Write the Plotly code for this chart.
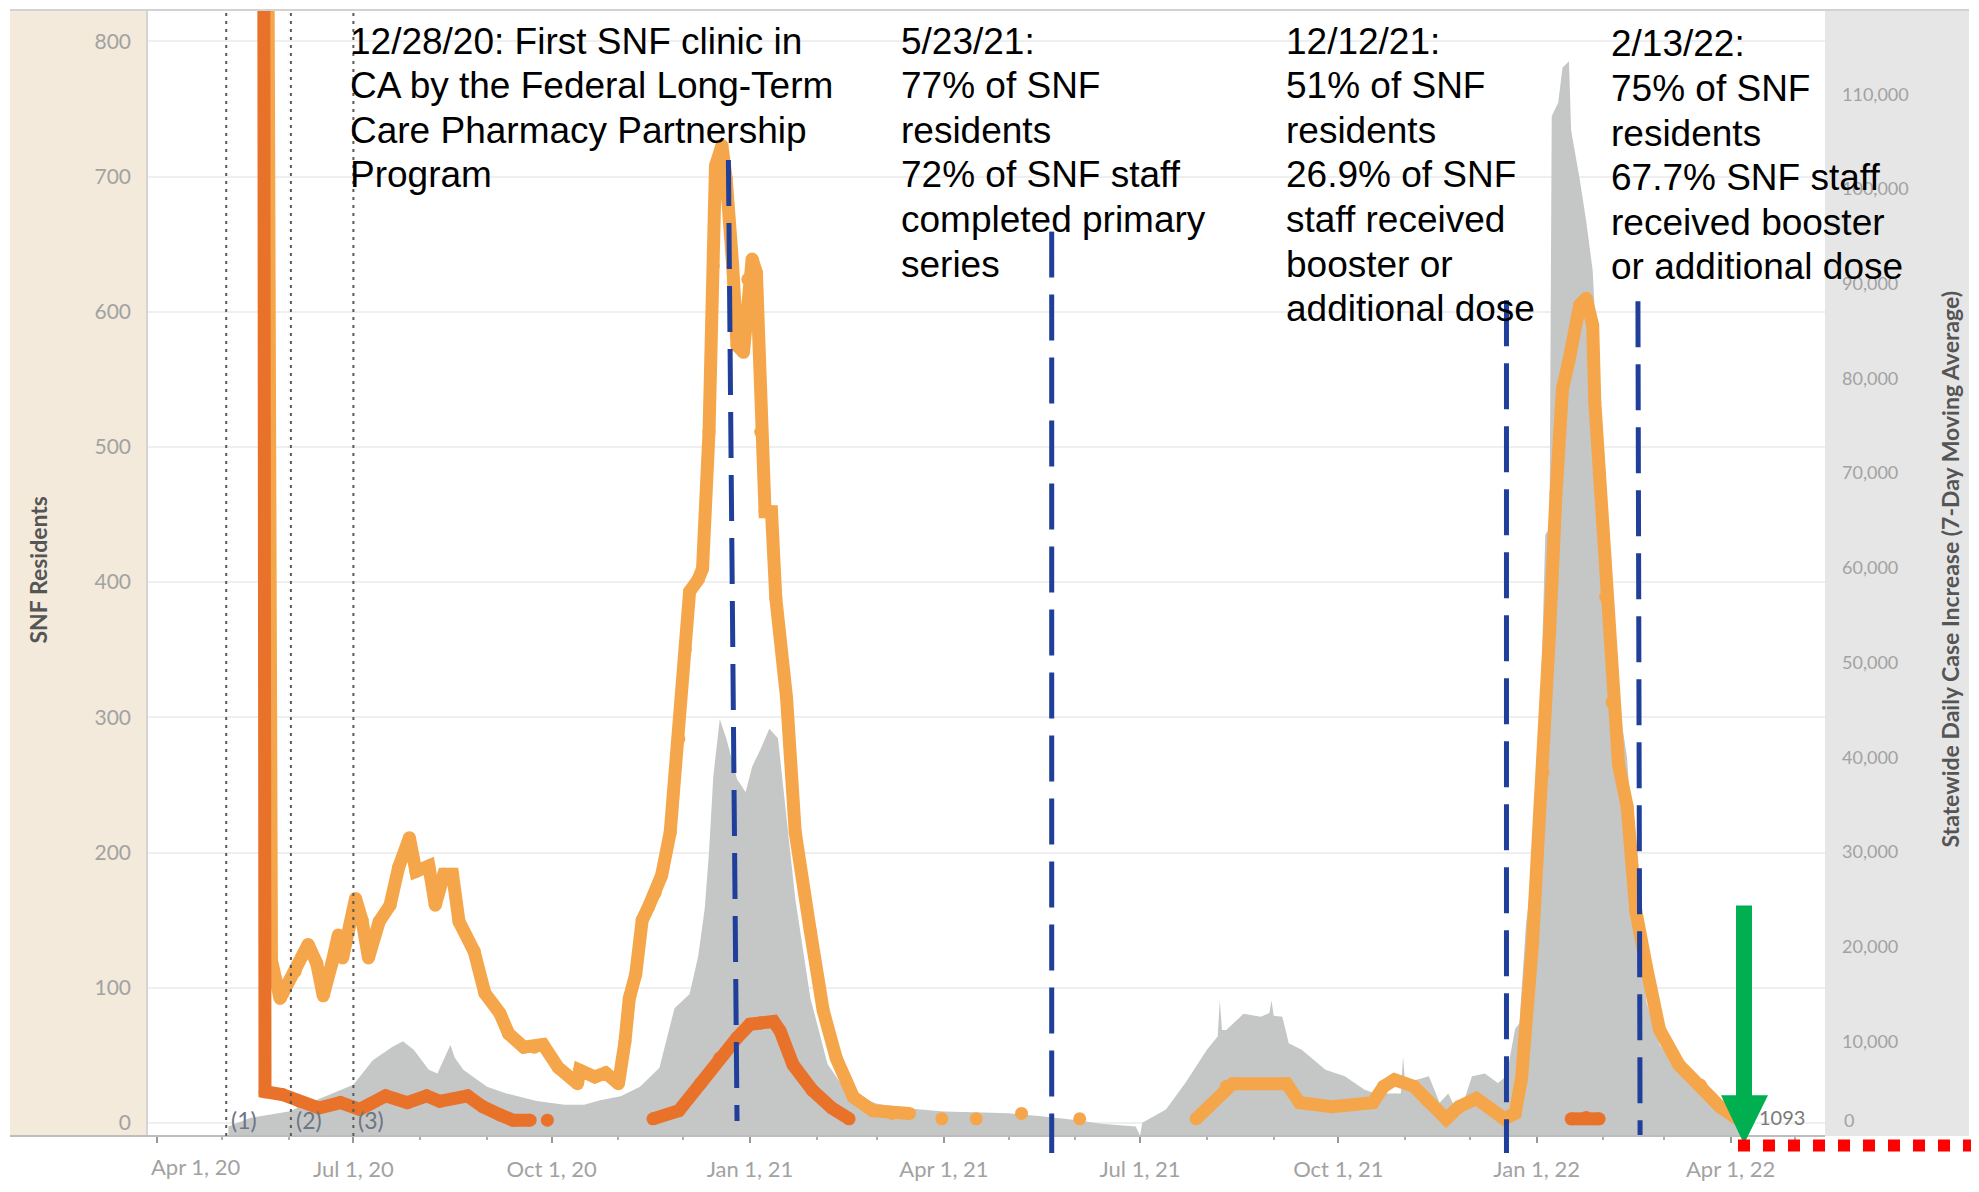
import plotly.graph_objects as go

# ---------------- data ----------------
grey_dates = ['2020-05-04', '2020-05-14', '2020-06-01', '2020-06-22', '2020-07-01', '2020-07-10', '2020-07-19',
              '2020-07-24', '2020-07-29', '2020-08-05', '2020-08-09', '2020-08-13', '2020-08-15', '2020-08-17',
              '2020-08-21', '2020-09-01', '2020-09-10', '2020-09-24', '2020-10-07', '2020-10-16', '2020-10-24',
              '2020-11-02', '2020-11-11', '2020-11-20', '2020-11-27', '2020-12-04', '2020-12-08', '2020-12-11',
              '2020-12-13', '2020-12-15', '2020-12-18', '2020-12-21', '2020-12-26', '2020-12-30', '2021-01-02',
              '2021-01-06', '2021-01-10', '2021-01-14', '2021-01-17', '2021-01-22', '2021-01-29', '2021-02-06',
              '2021-02-15', '2021-03-01', '2021-03-16', '2021-04-01', '2021-04-15', '2021-05-01', '2021-05-15',
              '2021-06-01', '2021-06-13', '2021-06-29', '2021-07-01', '2021-07-02', '2021-07-13', '2021-07-22',
              '2021-08-01', '2021-08-06', '2021-08-07', '2021-08-08', '2021-08-10', '2021-08-18', '2021-08-26',
              '2021-08-30', '2021-08-31', '2021-09-01', '2021-09-05', '2021-09-08', '2021-09-14', '2021-09-25',
              '2021-10-04', '2021-10-13', '2021-10-18', '2021-10-30', '2021-10-31', '2021-11-01', '2021-11-12',
              '2021-11-17', '2021-11-21', '2021-11-26', '2021-12-02', '2021-12-08', '2021-12-14', '2021-12-18',
              '2021-12-22', '2021-12-24', '2021-12-27', '2021-12-30', '2022-01-02', '2022-01-05', '2022-01-07',
              '2022-01-08', '2022-01-11', '2022-01-13', '2022-01-16', '2022-01-17', '2022-01-21', '2022-01-24',
              '2022-01-27', '2022-01-30', '2022-02-02', '2022-02-05', '2022-02-08', '2022-02-12', '2022-02-16',
              '2022-02-21', '2022-02-27', '2022-03-08', '2022-03-23', '2022-04-05', '2022-04-09']
grey_cases = [1000, 1900, 2600, 4500, 5400, 8000, 9400,
              10000, 9100, 7000, 6600, 8600, 9600, 8300,
              7000, 5200, 4500, 3700, 3300, 3300, 3800,
              4200, 5200, 7200, 13500, 15000, 19000, 24000,
              30000, 38000, 44000, 42000, 37700, 36300, 39000,
              40900, 43000, 42000, 35700, 25100, 14600, 7600,
              4600, 3400, 2900, 2600, 2500, 2400, 2100,
              1700, 1300, 1000, 0, 1400, 2800, 5600,
              9100, 10500, 14300, 11200, 11200, 12900, 12600,
              13000, 14300, 12700, 12600, 9800, 9100, 7000,
              6300, 4900, 4500, 4500, 8400, 5600, 6300,
              3500, 4500, 2100, 6300, 6600, 5600, 6300,
              11300, 11900, 22200, 28100, 37700, 63500, 64200,
              107700, 109100, 112800, 113500, 106200, 101000, 96600,
              91400, 77400, 64200, 54600, 45800, 39900, 25200,
              14100, 9700, 6800, 3800, 2000, 1600]

lo_dates = ['2020-05-21', '2020-05-23', '2020-05-24', '2020-05-28', '2020-06-04', '2020-06-10', '2020-06-14',
            '2020-06-17', '2020-06-21', '2020-06-24', '2020-06-26', '2020-07-02', '2020-07-05', '2020-07-08',
            '2020-07-13', '2020-07-18', '2020-07-22', '2020-07-27', '2020-07-30', '2020-08-05', '2020-08-08',
            '2020-08-12', '2020-08-16', '2020-08-19', '2020-08-26', '2020-08-31', '2020-09-07', '2020-09-11',
            '2020-09-18', '2020-09-23', '2020-09-27', '2020-10-04', '2020-10-13', '2020-10-14', '2020-10-21',
            '2020-10-26', '2020-11-01', '2020-11-04', '2020-11-06', '2020-11-09', '2020-11-12', '2020-11-15',
            '2020-11-18', '2020-11-21', '2020-11-25', '2020-11-29', '2020-12-02', '2020-12-04', '2020-12-08',
            '2020-12-10', '2020-12-13', '2020-12-15', '2020-12-16', '2020-12-19', '2020-12-21', '2020-12-24',
            '2020-12-26', '2020-12-29', '2020-12-31', '2021-01-02', '2021-01-04', '2021-01-06', '2021-01-08',
            '2021-01-11', '2021-01-13', '2021-01-18', '2021-01-22', '2021-01-29', '2021-02-04', '2021-02-10',
            '2021-02-18', '2021-02-27', '2021-03-08', '2021-03-16', '2021-03-23', '2021-03-31', '2021-04-08',
            '2021-04-16', '2021-04-26', '2021-05-07', '2021-05-20', '2021-06-03', '2021-07-01', '2021-07-27',
            '2021-08-02', '2021-08-10', '2021-08-13', '2021-09-07', '2021-09-13', '2021-09-28', '2021-10-17',
            '2021-10-22', '2021-10-27', '2021-11-05', '2021-11-11', '2021-11-20', '2021-11-26', '2021-12-04',
            '2021-12-11', '2021-12-17', '2021-12-22', '2021-12-25', '2021-12-30', '2022-01-04', '2022-01-07',
            '2022-01-10', '2022-01-13', '2022-01-16', '2022-01-21', '2022-01-24', '2022-01-27', '2022-01-28',
            '2022-01-30', '2022-02-02', '2022-02-05', '2022-02-08', '2022-02-12', '2022-02-16', '2022-02-21',
            '2022-02-27', '2022-03-08', '2022-03-18', '2022-03-27', '2022-04-05']
lo_values = [1500, 170, 120, 92, 112, 132, 118,
             94, 118, 139, 122, 166, 150, 122,
             149, 161, 189, 211, 186, 190, 161,
             184, 184, 149, 127, 96, 81, 66,
             56, 56, 58, 41, 29, 39, 34,
             37, 29, 60, 92, 110, 150, 160,
             170, 183, 215, 284, 350, 393, 402,
             410, 511, 634, 708, 723, 698, 634,
             575, 570, 624, 639, 629, 511, 452,
             452, 388, 314, 215, 142, 83, 48,
             19, 9, 7, 7, None, 3, None,
             3, None, 7, None, 3, None, 3,
             12, 27, 29, 29, 15, 12, 15,
             27, 32, 27, 17, 3, 12, 18,
             10, 3, 7, 33, 131, 259, 363,
             466, 543, 564, 605, 610, 590, 533,
             481, 389, 311, 265, 234, 157, 115,
             69, 43, 28, 12, 2]

do_dates = ['2020-05-20', '2020-05-21', '2020-05-29', '2020-06-06', '2020-06-15', '2020-06-25', '2020-07-04',
            '2020-07-16', '2020-07-26', '2020-08-04', '2020-08-10', '2020-08-23', '2020-08-30', '2020-09-07',
            '2020-09-13', '2020-09-21', '2020-09-25', '2020-09-29', '2020-10-15', '2020-11-17', '2020-11-29',
            '2020-12-09', '2020-12-18', '2020-12-26', '2021-01-01', '2021-01-06', '2021-01-12', '2021-01-15',
            '2021-01-21', '2021-01-30', '2021-02-08', '2021-02-16', '2021-03-01', '2022-01-17', '2022-01-24',
            '2022-01-30']
do_values = [1500, 23, 21, 16, 11, 15, 10,
             20, 15, 20, 16, 20, 12, 6,
             2, 2, None, 2, None, 3, 9,
             29, 48, 63, 73, 74, 75, 68,
             43, 24, 11, 3, None, 3, 4,
             3]

x_tick_dates = ['2020-04-01', '2020-07-01', '2020-10-01', '2021-01-01', '2021-04-01',
                '2021-07-01', '2021-10-01', '2022-01-01', '2022-04-01']
x_tick_text = ['', 'Jul 1, 20', 'Oct 1, 20', 'Jan 1, 21', 'Apr 1, 21',
               'Jul 1, 21', 'Oct 1, 21', 'Jan 1, 22', 'Apr 1, 22']
first_tick_label = 'Apr 1, 20'
left_ticks = [0, 100, 200, 300, 400, 500, 600, 700, 800]
right_ticks = [10000, 20000, 30000, 40000, 50000, 60000, 70000, 80000, 90000, 100000, 110000]

ref_dates = ['2020-05-03', '2020-06-02', '2020-07-01']
ref_labels = ['(1)', '(2)', '(3)']

# dashed milestone lines drawn on the chart (top date, bottom date)
milestone_top = ['2020-12-22', '2021-05-21', '2021-12-18', '2022-02-17']
milestone_bottom = ['2020-12-26', '2021-05-21', '2021-12-18', '2022-02-18']

notes = [
    ["12/28/20: First SNF clinic in", "CA by the Federal Long-Term", "Care Pharmacy Partnership", "Program"],
    ["5/23/21:", "77% of SNF", "residents", "72% of SNF staff", "completed primary", "series"],
    ["12/12/21:", "51% of SNF", "residents", "26.9% of SNF", "staff received", "booster or", "additional dose"],
    ["2/13/22:", "75% of SNF", "residents", "67.7% SNF staff", "received booster", "or additional dose"],
]
end_label = '1093'

# ---------------- layout geometry (reference pixels) ----------------
BODY = 8                      # page body margin of the html page
W, H = 1979 - 2 * BODY, 1192 - 2 * BODY
PL, PR, PT, PB = 148, 1825, 10, 1143   # plot area in reference pixels


def pxx(X):
    return (X - PL) / (PR - PL)


def pxy(Y):
    return (PB - Y) / (PB - PT)


X_TICK_FONT = dict(family='Lato, Roboto, sans-serif', size=22, color='#A2A2A2')
L_TICK_FONT = dict(family='Lato, Roboto, sans-serif', size=21, color='#A2A2A2')
R_TICK_FONT = dict(family='Lato, Roboto, sans-serif', size=18, color='#A2A2A2')
LIGHT = '#F5A64A'
DARK = '#E9722A'
GREY = '#C5C6C6'
BLUE = '#1F3F9B'

fig = go.Figure()
fig.add_trace(go.Scatter(x=grey_dates, y=grey_cases, mode='lines', yaxis='y',
                         line=dict(width=0, color=GREY), fill='tozeroy', fillcolor=GREY,
                         hoverinfo='skip', showlegend=False))
fig.add_trace(go.Scatter(x=lo_dates, y=lo_values, mode='lines+markers', yaxis='y2',
                         line=dict(width=13, color=LIGHT), marker=dict(size=13, color=LIGHT),
                         connectgaps=False, showlegend=False))
fig.add_trace(go.Scatter(x=do_dates, y=do_values, mode='lines+markers', yaxis='y2',
                         line=dict(width=13, color=DARK), marker=dict(size=13, color=DARK),
                         connectgaps=False, showlegend=False))

shapes = []
shapes.append(dict(type='rect', xref='paper', yref='paper', x0=pxx(10), x1=0, y0=0, y1=1,
                   fillcolor='#F3EADB', line=dict(width=0), layer='below'))
shapes.append(dict(type='rect', xref='paper', yref='paper', x0=1, x1=pxx(1969), y0=0, y1=1,
                   fillcolor='#E6E6E6', line=dict(width=0), layer='below'))
shapes.append(dict(type='line', xref='paper', yref='paper', x0=pxx(10), x1=pxx(1969), y0=1, y1=1,
                   line=dict(color='#D2D2D2', width=2)))
shapes.append(dict(type='line', xref='paper', yref='paper', x0=pxx(10), x1=1, y0=0, y1=0,
                   line=dict(color='#BDBDBD', width=2)))
for d in ref_dates:
    shapes.append(dict(type='line', xref='x', yref='paper', x0=d, x1=d, y0=0, y1=1,
                       line=dict(color='#5A5A5A', width=2, dash='3px,5px')))
tops = [161, 233, 302, 303]
bottoms = [1128, 1160, 1160, 1142]
for t, b, yt, yb in zip(milestone_top, milestone_bottom, tops, bottoms):
    shapes.append(dict(type='line', xref='x', yref='paper', x0=t, x1=b, y0=pxy(yt), y1=pxy(yb),
                       line=dict(color=BLUE, width=5, dash='46px,17px')))
shapes.append(dict(type='rect', xref='paper', yref='paper', x0=pxx(1736), x1=pxx(1752),
                   y0=pxy(1103), y1=pxy(911), fillcolor='#00B050', line=dict(width=0)))
shapes.append(dict(type='path', xref='paper', yref='paper',
                   path='M {:.5f},{:.5f} L {:.5f},{:.5f} L {:.5f},{:.5f} Z'.format(
                       pxx(1721), pxy(1102), pxx(1768), pxy(1102), pxx(1744), pxy(1151)),
                   fillcolor='#00B050', line=dict(width=0)))
shapes.append(dict(type='line', xref='paper', yref='paper', x0=pxx(1738), x1=pxx(1979),
                   y0=pxy(1152.5), y1=pxy(1152.5),
                   line=dict(color='#FF0000', width=12, dash='12px,13px')))

annotations = []
note_pos = [(348, 41.6), (898.5, 41.6), (1283.5, 41.6), (1609, 44.2)]
for lines, (X, Y0) in zip(notes, note_pos):
    for i, txt in enumerate(lines):
        annotations.append(dict(xref='paper', yref='paper', x=pxx(X), y=pxy(Y0 + i * 44.8),
                                text=txt, showarrow=False, xanchor='left', yanchor='middle',
                                font=dict(family='Liberation Sans, Arial, sans-serif', size=37, color='black')))
for d, lab in zip(ref_dates, ref_labels):
    annotations.append(dict(xref='x', yref='paper', x=d, y=pxy(1127), text=lab, showarrow=False,
                            xanchor='left', yanchor='middle', xshift=3,
                            font=dict(family='Lato, sans-serif', size=23, color='#6E7585')))
annotations.append(dict(xref='paper', yref='paper', x=pxx(196), y=pxy(1174), text=first_tick_label,
                        showarrow=False, xanchor='center', yanchor='middle', font=X_TICK_FONT))
annotations.append(dict(xref='paper', yref='paper', x=pxx(1842), y=pxy(1127), text='0',
                        showarrow=False, xanchor='left', yanchor='middle', font=R_TICK_FONT))
annotations.append(dict(xref='paper', yref='paper', x=pxx(1757), y=pxy(1124), text=end_label,
                        showarrow=False, xanchor='left', yanchor='middle',
                        font=dict(family='Lato, sans-serif', size=20, color='#7A7A7A')))
annotations.append(dict(xref='paper', yref='paper', x=pxx(38), y=pxy(574), text='SNF Residents',
                        textangle=-90, showarrow=False, xanchor='center', yanchor='middle',
                        font=dict(family='Lato, sans-serif', size=23, color='#555555', weight='bold')))
annotations.append(dict(xref='paper', yref='paper', x=pxx(1950), y=pxy(573),
                        text='Statewide Daily Case Increase (7-Day Moving Average)',
                        textangle=-90, showarrow=False, xanchor='center', yanchor='middle',
                        font=dict(family='Lato, sans-serif', size=23, color='#555555', weight='bold')))

fig.update_layout(
    width=W, height=H, autosize=False,
    margin=dict(l=PL - BODY, r=W - (PR - BODY), t=PT - BODY, b=H - (PB - BODY), pad=0),
    paper_bgcolor='white', plot_bgcolor='white',
    showlegend=False,
    xaxis=dict(type='date', range=['2020-03-27 17:00', '2022-05-14 19:00'],
               tickmode='array', tickvals=x_tick_dates, ticktext=x_tick_text,
               ticks='outside', ticklen=6, tickcolor='#9A9A9A', tickwidth=1.5,
               ticklabelstandoff=8, tickfont=X_TICK_FONT,
               showgrid=False, zeroline=False, showline=False,
               minor=dict(ticks='outside', ticklen=3, tickcolor='#B0B0B0', dtick='M1',
                          tick0='2020-04-01', showgrid=False)),
    yaxis=dict(side='right', range=[0, 118900], tickmode='array', tickvals=right_ticks,
               tickformat=',', tickfont=R_TICK_FONT, showgrid=False, zeroline=False,
               showline=False, ticks='', ticklabelstandoff=16),
    yaxis2=dict(overlaying='y', side='left', range=[-9.7, 823.2], tickmode='array',
                tickvals=left_ticks, tickfont=L_TICK_FONT, showgrid=True, gridcolor='#EFEFEF',
                gridwidth=1.5, zeroline=False, showline=True, linecolor='#D4D4D4', linewidth=1.5,
                ticks='', ticklabelstandoff=11),
    shapes=shapes,
    annotations=annotations,
)

fig.write_html('out.html')
